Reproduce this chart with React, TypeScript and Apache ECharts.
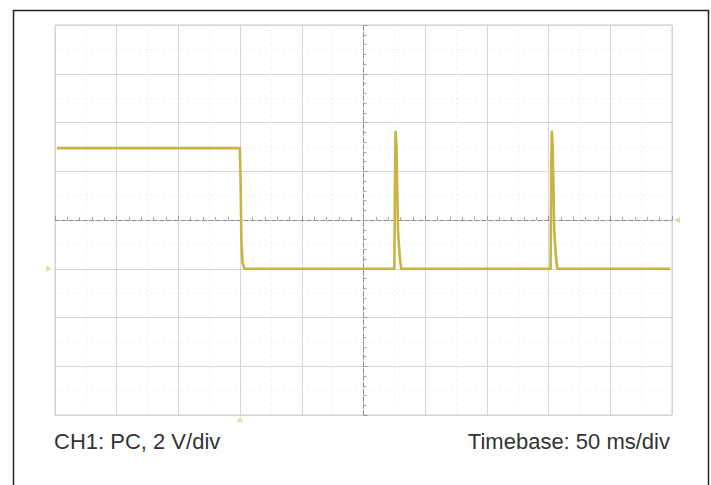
import React, { useEffect, useRef } from "react";
import * as echarts from "echarts";

// Time in ms (10 divisions x 50 ms), voltage in V relative to CH1 ground
const times = [1.5, 149.8, 150.4, 151.0, 152.0, 153.5, 275.0, 275.6, 276.0, 276.7, 278.0, 279.6, 280.6, 401.6, 402.2, 402.6, 403.3, 404.6, 406.2, 407.2, 498.5];
const volts = [4.95, 4.95, 3.6, 1.2, 0.25, 0.0, 0.0, 4.2, 5.62, 5.0, 1.5, 0.35, 0.0, 0.0, 4.3, 5.62, 5.0, 1.5, 0.35, 0.0, 0.0];

const channelLabel = "CH1: PC, 2 V/div";
const timebaseLabel = "Timebase: 50 ms/div";

const traceColor = "#cbb342";

export default function App() {
  const ref = useRef<HTMLDivElement>(null);
  useEffect(() => {
    if (!ref.current) return;
    const chart = echarts.init(ref.current, undefined, { renderer: "svg" });
    const gridRect = { left: 55, top: 25, width: 617, height: 390 };
    const data = times.map((t, i) => [t, volts[i]]);
    chart.setOption({
      animation: false,
      backgroundColor: "#ffffff",
      grid: [
        { ...gridRect, show: true, borderColor: "#cdcdcd", borderWidth: 1 },
        { ...gridRect, show: false },
      ],
      xAxis: [
        {
          type: "value", gridIndex: 0, min: 0, max: 500, interval: 50,
          axisLine: { show: false }, axisTick: { show: false }, axisLabel: { show: false },
          splitLine: { show: true, lineStyle: { color: "#d6d6d6", width: 1 } },
          minorTick: { show: false, splitNumber: 2 },
          minorSplitLine: { show: true, lineStyle: { color: "#efefef", type: [2, 4] } },
        },
        {
          type: "value", gridIndex: 1, min: -250, max: 250, interval: 50,
          axisLine: { show: true, onZero: true, lineStyle: { color: "#8c8c8c", type: [4, 3], width: 1 } },
          axisTick: { show: true, inside: true, length: 4, lineStyle: { color: "#9a9a9a" } },
          minorTick: { show: true, splitNumber: 5, length: 3, lineStyle: { color: "#a8a8a8" } },
          axisLabel: { show: false }, splitLine: { show: false },
        },
      ],
      yAxis: [
        {
          type: "value", gridIndex: 0, min: -6, max: 10, interval: 2,
          axisLine: { show: false }, axisTick: { show: false }, axisLabel: { show: false },
          splitLine: { show: true, lineStyle: { color: "#d6d6d6", width: 1 } },
          minorTick: { show: false, splitNumber: 2 },
          minorSplitLine: { show: true, lineStyle: { color: "#efefef", type: [2, 4] } },
        },
        {
          type: "value", gridIndex: 1, min: -4, max: 4, interval: 1,
          axisLine: { show: true, onZero: true, lineStyle: { color: "#8c8c8c", type: [4, 3], width: 1 } },
          axisTick: { show: true, inside: true, length: 4, lineStyle: { color: "#9a9a9a" } },
          minorTick: { show: true, splitNumber: 5, length: 3, lineStyle: { color: "#a8a8a8" } },
          axisLabel: { show: false }, splitLine: { show: false },
        },
      ],
      series: [
        {
          type: "line",
          xAxisIndex: 0,
          yAxisIndex: 0,
          data,
          showSymbol: false,
          symbol: "none",
          lineStyle: { color: traceColor, width: 2.6, join: "round" },
          z: 5,
          markPoint: {
            silent: true,
            label: { show: false },
            itemStyle: { color: "#e4df9a" },
            symbol: "triangle",
            symbolSize: 6,
            data: [
              { coord: [150, -6], symbolOffset: [0, 4], symbolRotate: 0 },
              { coord: [0, 0], symbolOffset: [-6, 0], symbolRotate: -90 },
              { coord: [500, 2], symbolOffset: [5, 0], symbolRotate: 90 },
            ],
          },
        },
      ],
      graphic: [
        {
          type: "rect",
          shape: { x: 13.5, y: 10.5, width: 695, height: 480 },
          style: { fill: "none", stroke: "#222222", lineWidth: 1.5 },
          silent: true,
        },
        {
          type: "text",
          x: 54,
          y: 441,
          style: {
            text: channelLabel,
            font: "22px 'Liberation Sans', Arial, sans-serif",
            fill: "#333333",
            textAlign: "left",
            textVerticalAlign: "middle",
            align: "left",
            verticalAlign: "middle",
          },
        },
        {
          type: "text",
          x: 670,
          y: 441,
          style: {
            text: timebaseLabel,
            font: "22px 'Liberation Sans', Arial, sans-serif",
            fill: "#333333",
            textAlign: "right",
            textVerticalAlign: "middle",
            align: "right",
            verticalAlign: "middle",
          },
        },
      ],
    });
    return () => chart.dispose();
  }, []);
  return (
    <div
      ref={ref}
      style={{ position: "absolute", left: 0, top: 0, width: 711, height: 485, background: "#fff" }}
    />
  );
}
